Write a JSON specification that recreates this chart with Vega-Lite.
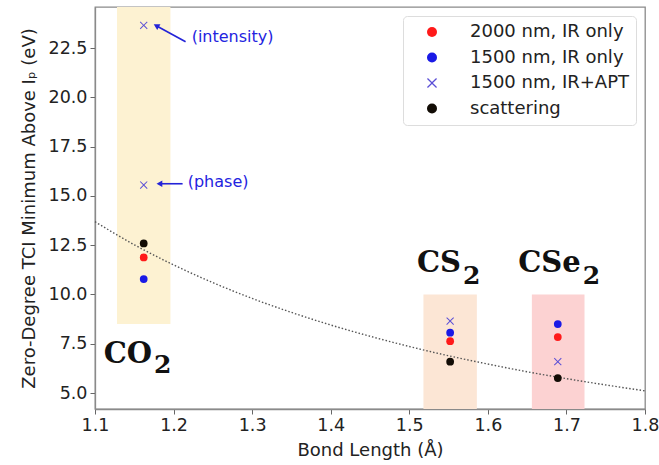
{
  "$schema": "https://vega.github.io/schema/vega-lite/v6.json",
  "width": 550,
  "height": 402,
  "autosize": {"type": "none"},
  "padding": {"left": 95, "top": 7, "right": 14, "bottom": 56},
  "background": "white",
  "config": {
    "view": {"stroke": "#8a8a8a", "strokeWidth": 1.3},
    "font": "DejaVu Sans",
    "axis": {
      "grid": false,
      "labelFlush": false,
      "domainColor": "#8a8a8a",
      "domainWidth": 1.3,
      "tickColor": "#666",
      "tickSize": 5,
      "labelFont": "DejaVu Sans",
      "labelFontSize": 17.5,
      "labelColor": "#222",
      "titleFont": "DejaVu Sans",
      "titleFontSize": 18,
      "titleFontWeight": "normal",
      "titleColor": "#222"
    },
    "legend": {
      "orient": "top-right",
      "offset": 9,
      "fillColor": "white",
      "strokeColor": "#dddddd",
      "cornerRadius": 4,
      "padding": 7,
      "labelFont": "DejaVu Sans",
      "labelFontSize": 18,
      "labelColor": "#222",
      "symbolOffset": 13,
      "labelOffset": 29,
      "rowPadding": 7.5,
      "symbolStrokeWidth": 0
    }
  },
  "layer": [
    {
      "data": {"values": [
        {"mol": "CO2", "x": 1.128, "x2": 1.196, "y": 8.5, "y2": 24.58},
        {"mol": "CS2", "x": 1.518, "x2": 1.586, "y": 4.19, "y2": 10.0},
        {"mol": "CSe2", "x": 1.656, "x2": 1.723, "y": 4.19, "y2": 10.0}
      ]},
      "mark": {"type": "rect"},
      "encoding": {
        "x": {"field": "x", "type": "quantitative",
          "scale": {"domain": [1.1, 1.8], "nice": false, "zero": false},
          "axis": {"values": [1.1, 1.2, 1.3, 1.4, 1.5, 1.6, 1.7, 1.8], "format": ".1f", "title": "Bond Length (Å)", "labelPadding": 2, "titlePadding": 8}},
        "x2": {"field": "x2"},
        "y": {"field": "y", "type": "quantitative",
          "scale": {"domain": [4.19, 24.58], "nice": false, "zero": false},
          "axis": {"values": [5, 7.5, 10, 12.5, 15, 17.5, 20, 22.5], "format": ".1f", "title": "Zero-Degree TCI Minimum Above Iₚ (eV)", "labelPadding": 3, "titlePadding": 10}},
        "y2": {"field": "y2"},
        "fill": {"field": "mol", "type": "nominal", "legend": null,
          "scale": {"domain": ["CO2", "CS2", "CSe2"], "range": ["#fdf2d2", "#fce6d5", "#fcd2d2"]}}
      }
    },
    {
      "data": {"values": [
        {"x": 1.1, "y": 13.69}, {"x": 1.15, "y": 12.52}, {"x": 1.2, "y": 11.5},
        {"x": 1.25, "y": 10.6}, {"x": 1.3, "y": 9.8}, {"x": 1.35, "y": 9.09},
        {"x": 1.4, "y": 8.45}, {"x": 1.45, "y": 7.88}, {"x": 1.5, "y": 7.36},
        {"x": 1.55, "y": 6.89}, {"x": 1.6, "y": 6.47}, {"x": 1.65, "y": 6.08},
        {"x": 1.7, "y": 5.73}, {"x": 1.75, "y": 5.41}, {"x": 1.8, "y": 5.11}
      ]},
      "mark": {"type": "line", "color": "#555", "strokeWidth": 1.4, "strokeDash": [1.5, 2], "interpolate": "monotone"},
      "encoding": {
        "x": {"field": "x", "type": "quantitative"},
        "y": {"field": "y", "type": "quantitative"}
      }
    },
    {
      "data": {"values": [
        {"series": "2000 nm, IR only", "x": 1.162, "y": 11.88},
        {"series": "1500 nm, IR only", "x": 1.162, "y": 10.78},
        {"series": "1500 nm, IR+APT", "x": 1.162, "y": 23.65},
        {"series": "1500 nm, IR+APT", "x": 1.162, "y": 15.55},
        {"series": "scattering", "x": 1.162, "y": 12.59},
        {"series": "2000 nm, IR only", "x": 1.552, "y": 7.63},
        {"series": "1500 nm, IR only", "x": 1.552, "y": 8.06},
        {"series": "1500 nm, IR+APT", "x": 1.552, "y": 8.65},
        {"series": "scattering", "x": 1.552, "y": 6.59},
        {"series": "2000 nm, IR only", "x": 1.689, "y": 7.84},
        {"series": "1500 nm, IR only", "x": 1.689, "y": 8.5},
        {"series": "1500 nm, IR+APT", "x": 1.689, "y": 6.59},
        {"series": "scattering", "x": 1.689, "y": 5.76}
      ]},
      "mark": {"type": "point", "filled": true, "opacity": 1, "size": 60},
      "encoding": {
        "x": {"field": "x", "type": "quantitative"},
        "y": {"field": "y", "type": "quantitative"},
        "color": {"field": "series", "type": "nominal",
          "scale": {"domain": ["2000 nm, IR only", "1500 nm, IR only", "1500 nm, IR+APT", "scattering"],
                    "range": ["#ff1a1a", "#1a1ae6", "#5b4fd6", "#120c05"]},
          "legend": {"title": null}},
        "shape": {"field": "series", "type": "nominal",
          "scale": {"domain": ["2000 nm, IR only", "1500 nm, IR only", "1500 nm, IR+APT", "scattering"],
                    "range": ["circle", "circle", "M-1,-0.82L-0.82,-1L0,-0.18L0.82,-1L1,-0.82L0.18,0L1,0.82L0.82,1L0,0.18L-0.82,1L-1,0.82L-0.18,0Z", "circle"]},
          "legend": {"title": null}}
      }
    },
    {
      "data": {"values": [
        {"x": 1.178, "y": 23.63, "x2": 1.2153, "y2": 22.82},
        {"x": 1.182, "y": 15.615, "x2": 1.2115, "y2": 15.615}
      ]},
      "mark": {"type": "rule", "color": "#2323d8", "strokeWidth": 1.6},
      "encoding": {
        "x": {"field": "x", "type": "quantitative"},
        "y": {"field": "y", "type": "quantitative"},
        "x2": {"field": "x2"},
        "y2": {"field": "y2"}
      }
    },
    {
      "data": {"values": [{"x": 1.178, "y": 23.63}]},
      "mark": {"type": "point", "shape": "triangle-up", "filled": true, "color": "#2323d8", "opacity": 1, "size": 45, "angle": 298.6},
      "encoding": {
        "x": {"field": "x", "type": "quantitative"},
        "y": {"field": "y", "type": "quantitative"}
      }
    },
    {
      "data": {"values": [{"x": 1.182, "y": 15.615}]},
      "mark": {"type": "point", "shape": "triangle-left", "filled": true, "color": "#2323d8", "opacity": 1, "size": 45},
      "encoding": {
        "x": {"field": "x", "type": "quantitative"},
        "y": {"field": "y", "type": "quantitative"}
      }
    },
    {
      "data": {"values": [
        {"label": "(intensity)", "x": 1.223, "y": 23.07},
        {"label": "(phase)", "x": 1.218, "y": 15.72}
      ]},
      "mark": {"type": "text", "align": "left", "baseline": "middle", "font": "DejaVu Sans", "fontSize": 16, "color": "#2323e0"},
      "encoding": {
        "x": {"field": "x", "type": "quantitative"},
        "y": {"field": "y", "type": "quantitative"},
        "text": {"field": "label"}
      }
    },
    {
      "data": {"values": [
        {"label": "CO", "x": 1.1738, "y": 6.5},
        {"label": "CS", "x": 1.5671, "y": 11.12},
        {"label": "CSe", "x": 1.7194, "y": 11.12}
      ]},
      "mark": {"type": "text", "align": "right", "baseline": "alphabetic", "dx": -1, "font": "DejaVu Serif", "fontWeight": "bold", "fontSize": 29, "color": "#111"},
      "encoding": {
        "x": {"field": "x", "type": "quantitative"},
        "y": {"field": "y", "type": "quantitative"},
        "text": {"field": "label"}
      }
    },
    {
      "data": {"values": [
        {"label": "2", "x": 1.1738, "y": 6.0},
        {"label": "2", "x": 1.5671, "y": 10.53},
        {"label": "2", "x": 1.7194, "y": 10.53}
      ]},
      "mark": {"type": "text", "align": "left", "baseline": "alphabetic", "dx": 1, "font": "DejaVu Serif", "fontWeight": "bold", "fontSize": 25, "color": "#111"},
      "encoding": {
        "x": {"field": "x", "type": "quantitative"},
        "y": {"field": "y", "type": "quantitative"},
        "text": {"field": "label"}
      }
    }
  ]
}
